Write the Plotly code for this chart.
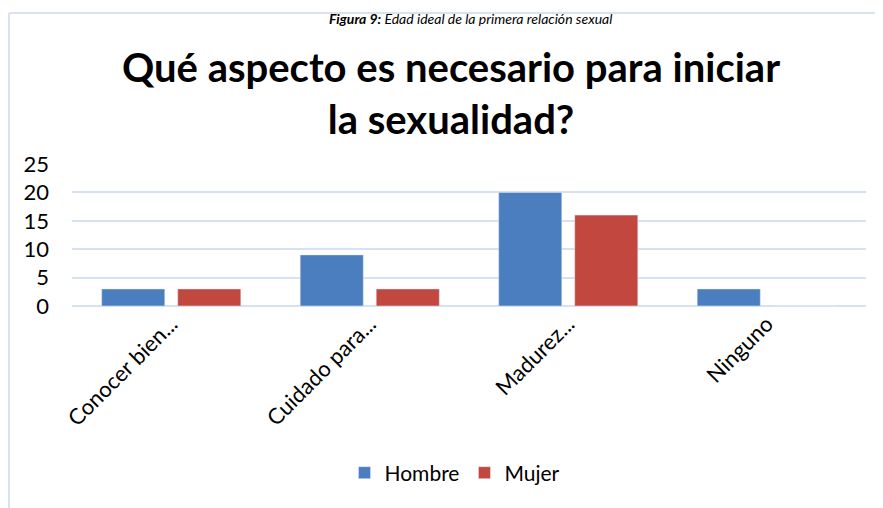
import plotly.graph_objects as go

categories = ["Conocer bien...", "Cuidado para...", "Madurez...", "Ninguno"]
hombre = [3, 9, 20, 3]
mujer = [3, 3, 16, 0]
y_ticks = [0, 5, 10, 15, 20, 25]

# page has an 8px body margin: figure origin sits at screen (8, 8)
OFF = 8
W, H = 875, 500
L, R, T, B = 64, 17, 156, 202
pw, ph = W - L - R, H - T - B

def px(sx):
    return (sx - OFF - L) / pw

def py(sy):
    return (H - B - (sy - OFF)) / ph

font = "Lato"
fig = go.Figure()
fig.add_bar(name="Hombre", x=categories, y=hombre, marker_color="#4A7EBF")
fig.add_bar(name="Mujer", x=categories, y=mujer, marker_color="#C2473F")

fig.update_layout(
    width=W, height=H,
    margin=dict(l=L, r=R, t=T, b=B),
    paper_bgcolor="white", plot_bgcolor="white",
    barmode="group", bargap=0.234, bargroupgap=0.17,
    font=dict(family=font, color="#000000", size=22),
    title=dict(text="<b>Qué aspecto es necesario para iniciar<br>la sexualidad?</b>",
               x=(451 - OFF) / W, xanchor="center", y=1 - (82 - OFF) / H, yanchor="middle",
               font=dict(size=40, family=font, color="#000000")),
    legend=dict(orientation="h", x=px(455), xanchor="center", y=py(473), yanchor="middle",
                font=dict(size=21, family=font), itemwidth=30, traceorder="normal"),
    xaxis=dict(tickangle=-45, showgrid=False, showline=False, ticks="",
               tickfont=dict(size=22, family=font)),
    yaxis=dict(range=[0, 25], tickvals=y_ticks, showgrid=True, gridcolor="#D6E1F1", gridwidth=2,
               zeroline=True, zerolinecolor="#D6E1F1", zerolinewidth=2, showline=False,
               ticks="", ticklabelstandoff=22, tickfont=dict(size=22, family=font)),
    annotations=[dict(text="<b><i>Figura 9:</i></b><i> Edad ideal de la primera relación sexual</i>",
                      xref="paper", yref="paper", x=px(470), y=1 + T / ph, xanchor="center",
                      yanchor="top", showarrow=False,
                      font=dict(size=14, family=font, color="#000000"))],
    shapes=[
        dict(type="line", xref="paper", yref="paper", x0=px(9), x1=px(883), y0=py(13), y1=py(13),
             line=dict(color="#D9E2EE", width=2), layer="below"),
        dict(type="line", xref="paper", yref="paper", x0=px(9), x1=px(9), y0=py(508), y1=py(13),
             line=dict(color="#D9E2EE", width=2), layer="below"),
    ],
)
fig.write_html("out.html")
